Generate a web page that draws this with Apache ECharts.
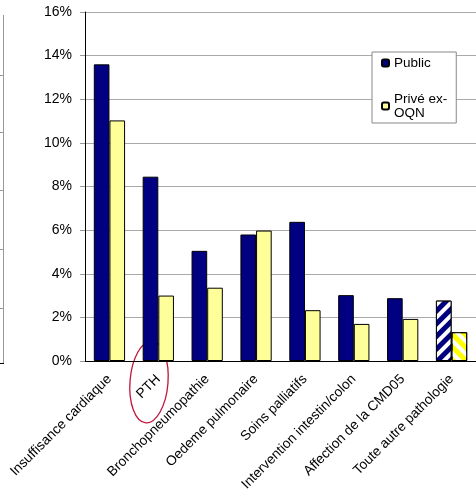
<!DOCTYPE html>
<html>
<head>
<meta charset="utf-8">
<script src="https://cdn.jsdelivr.net/npm/echarts@6/dist/echarts.min.js"></script>
<style>
  html, body { margin: 0; padding: 0; background: #fff; }
  #chart { width: 476px; height: 501px; }
</style>
</head>
<body>
<div id="chart"></div>
<script>
// données (en %)
var categories = ['Insuffisance cardiaque', 'PTH', 'Bronchopneumopathie', 'Oedeme pulmonaire',
  'Soins palliatifs', 'Intervention intestin/colon', 'Affection de la CMD05', 'Toute autre pathologie'];
var publicVals = [13.6, 8.45, 5.05, 5.8, 6.38, 3.02, 2.88, 2.77];
var priveVals = [11.03, 3.0, 3.36, 5.98, 2.33, 1.7, 1.93, 1.32];
var yTicks = [0, 2, 4, 6, 8, 10, 12, 14, 16];

var chart = echarts.init(document.getElementById('chart'));

function stripes(rot) {
  return {
    color: '#ffffff',
    symbol: 'rect',
    symbolSize: 1,
    dashArrayX: [[1, 0]],
    dashArrayY: [4, 5],
    rotation: rot
  };
}

// la derniere barre est hachuree
var pubData = publicVals.map(function (v, i) {
  if (i === publicVals.length - 1) {
    return { value: v, itemStyle: { decal: stripes(-Math.PI / 4) } };
  }
  return v;
});
var privData = priveVals.map(function (v, i) {
  if (i === priveVals.length - 1) {
    return { value: v, itemStyle: { color: '#ffff00', decal: stripes(Math.PI / 4) } };
  }
  return v;
});

var font = 'Liberation Sans, Arial, sans-serif';

// restes d'un autre graphique a gauche
var leftTicks = [75, 132, 190, 249, 308];
var graphics = [
  { type: 'line', shape: { x1: 3.5, y1: 15, x2: 3.5, y2: 363 }, style: { stroke: '#999', lineWidth: 1 } },
  { type: 'line', shape: { x1: 0, y1: 363.5, x2: 4, y2: 363.5 }, style: { stroke: '#000', lineWidth: 1 } },
  { type: 'ellipse', shape: { cx: 149, cy: 382, rx: 19, ry: 41 }, rotation: -0.08, originX: 149, originY: 382,
    style: { fill: 'none', stroke: '#c0143c', lineWidth: 1.3 } }
];
leftTicks.forEach(function (y) {
  graphics.push({ type: 'line', shape: { x1: 0, y1: y + 0.5, x2: 3, y2: y + 0.5 }, style: { stroke: '#999', lineWidth: 1 } });
});

chart.setOption({
  animation: false,
  backgroundColor: '#fff',
  textStyle: { fontFamily: font },
  grid: { left: 85, top: 12, width: 400, height: 349, containLabel: false },
  legend: {
    orient: 'vertical',
    left: 372,
    top: 52,
    padding: [4, 9, 3, 9],
    itemWidth: 7,
    itemHeight: 7,
    itemGap: 22,
    borderColor: '#888',
    borderWidth: 1,
    backgroundColor: '#fff',
    textStyle: { fontSize: 13.5, color: '#000', lineHeight: 14, fontFamily: font },
    data: ['Public', 'Privé ex-\nOQN']
  },
  xAxis: {
    type: 'category',
    data: categories,
    axisLine: { lineStyle: { color: '#000', width: 1 } },
    axisTick: { lineStyle: { color: '#999' }, length: 5 },
    axisLabel: { rotate: 45, interval: 0, fontSize: 13.7, color: '#000', margin: 16, fontFamily: font }
  },
  yAxis: {
    type: 'value',
    min: yTicks[0],
    max: yTicks[yTicks.length - 1],
    interval: 2,
    axisLine: { show: true, lineStyle: { color: '#000', width: 1 } },
    axisTick: { show: true, lineStyle: { color: '#999' }, length: 5 },
    splitLine: { lineStyle: { color: '#aaa', width: 1 } },
    axisLabel: { formatter: '{value}%', fontSize: 14, color: '#000', margin: 13, fontFamily: font }
  },
  series: [
    {
      name: 'Public',
      type: 'bar',
      data: pubData,
      barGap: '0%',
      barCategoryGap: '36%',
      itemStyle: { color: '#000080', borderColor: '#000', borderWidth: 1 }
    },
    {
      name: 'Privé ex-\nOQN',
      type: 'bar',
      data: privData,
      itemStyle: { color: '#ffff99', borderColor: '#000', borderWidth: 1 }
    }
  ],
  graphic: graphics
});
</script>
</body>
</html>
